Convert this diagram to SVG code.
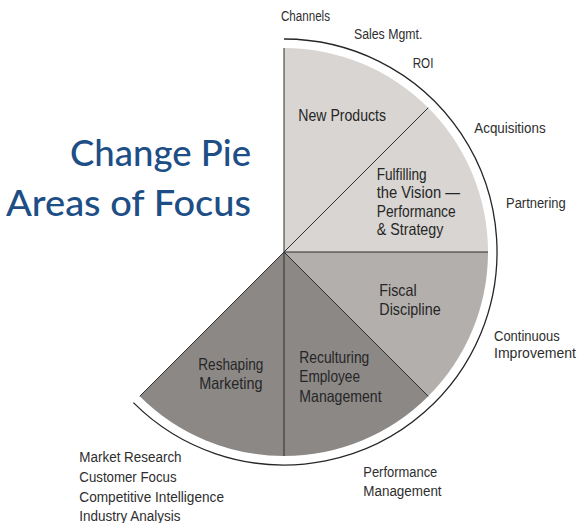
<svg xmlns="http://www.w3.org/2000/svg" width="581" height="523" viewBox="0 0 581 523">
<style>
text{font-family:"Liberation Sans Narrow","Liberation Sans",Arial,sans-serif;fill:#2e2e2e;}
.o{font-size:15.5px;}
.i{font-size:16.5px;fill:#262626;}
.t{font-family:Lato,"Open Sans","Noto Sans",sans-serif;font-size:36px;font-weight:500;fill:#1d4e86;}
.div{stroke:#2f2f2f;stroke-width:1;fill:none;}
.light{fill:#d8d5d2;}
.med{fill:#b3afac;}
.dark{fill:#8b8886;}
</style>
<rect width="581" height="523" fill="#fff"/>
<g id="title">
<text class="t" x="70" y="166" textLength="181" lengthAdjust="spacingAndGlyphs">Change Pie</text>
<text class="t" x="6" y="216" textLength="245" lengthAdjust="spacingAndGlyphs">Areas of Focus</text>
</g>
<g id="slice-top">
<path class="light" d="M284,252 L284,48 A204,204 0 0 1 488,252 Z"/>
</g>
<g id="new-products">
<text class="i" x="298.3" y="120.7" textLength="87.7" lengthAdjust="spacingAndGlyphs">New Products</text>
</g>
<g id="fulfilling-vision">
<text class="i" x="376.7" y="179.5" textLength="50" lengthAdjust="spacingAndGlyphs">Fulfilling</text>
<text class="i" x="376.7" y="198" textLength="83.3" lengthAdjust="spacingAndGlyphs">the Vision —</text>
<text class="i" x="376.7" y="216.5" textLength="79" lengthAdjust="spacingAndGlyphs">Performance</text>
<text class="i" x="376.7" y="235" textLength="66.7" lengthAdjust="spacingAndGlyphs">&amp; Strategy</text>
</g>
<g id="fiscal-discipline">
<path class="med" d="M284,252 L488,252 A204,204 0 0 1 428.25,396.25 Z"/>
<text class="i" x="379.3" y="296" textLength="37.3" lengthAdjust="spacingAndGlyphs">Fiscal</text>
<text class="i" x="379.3" y="315" textLength="61.3" lengthAdjust="spacingAndGlyphs">Discipline</text>
</g>
<g id="reculturing">
<path class="dark" d="M284,252 L428.25,396.25 A204,204 0 0 1 284,456 Z"/>
<text class="i" x="299.3" y="362.7" textLength="70" lengthAdjust="spacingAndGlyphs">Reculturing</text>
<text class="i" x="299.3" y="381.7" textLength="60.7" lengthAdjust="spacingAndGlyphs">Employee</text>
<text class="i" x="299.3" y="401.5" textLength="82.3" lengthAdjust="spacingAndGlyphs">Management</text>
</g>
<g id="reshaping-marketing">
<path class="dark" d="M284,252 L284,456 A204,204 0 0 1 139.75,396.25 Z"/>
<text class="i" x="198.3" y="370" textLength="65" lengthAdjust="spacingAndGlyphs">Reshaping</text>
<text class="i" x="199.3" y="389.3" textLength="63.3" lengthAdjust="spacingAndGlyphs">Marketing</text>
</g>
<g id="connectors">
<path class="div" d="M284,252 L284,48 M284,252 L428.25,107.75 M284,252 L488,252 M284,252 L428.25,396.25 M284,252 L284,456 M284,252 L139.75,396.25"/>
<path d="M284,39 A213,213 0 1 1 133.4,402.6" fill="none" stroke="#262626" stroke-width="1.3"/>
</g>
<g id="label-channels"><text class="o" x="281" y="20.7" textLength="49" lengthAdjust="spacingAndGlyphs">Channels</text></g>
<g id="label-sales"><text class="o" x="354" y="39" textLength="68.3" lengthAdjust="spacingAndGlyphs">Sales Mgmt.</text></g>
<g id="label-roi"><text class="o" x="412.7" y="67.7" textLength="20.7" lengthAdjust="spacingAndGlyphs">ROI</text></g>
<g id="label-acquisitions"><text class="o" x="474.3" y="133.3" textLength="71.3" lengthAdjust="spacingAndGlyphs">Acquisitions</text></g>
<g id="label-partnering"><text class="o" x="506" y="208.3" textLength="59.7" lengthAdjust="spacingAndGlyphs">Partnering</text></g>
<g id="label-continuous">
<text class="o" x="494" y="340.5" textLength="65.7" lengthAdjust="spacingAndGlyphs">Continuous</text>
<text class="o" x="494" y="357.5" style="font-size:14.2px" textLength="82" lengthAdjust="spacingAndGlyphs">Improvement</text>
</g>
<g id="label-performance">
<text class="o" x="363.3" y="476.5" textLength="74" lengthAdjust="spacingAndGlyphs">Performance</text>
<text class="o" x="363.3" y="495.5" textLength="78.3" lengthAdjust="spacingAndGlyphs">Management</text>
</g>
<g id="label-market">
<text class="o" x="79.3" y="461.7" textLength="102.3" lengthAdjust="spacingAndGlyphs">Market Research</text>
<text class="o" x="79.3" y="481.7" textLength="97.3" lengthAdjust="spacingAndGlyphs">Customer Focus</text>
<text class="o" x="79.3" y="501.7" textLength="144.7" lengthAdjust="spacingAndGlyphs">Competitive Intelligence</text>
<text class="o" x="79.3" y="521" textLength="101.3" lengthAdjust="spacingAndGlyphs">Industry Analysis</text>
</g>
</svg>
